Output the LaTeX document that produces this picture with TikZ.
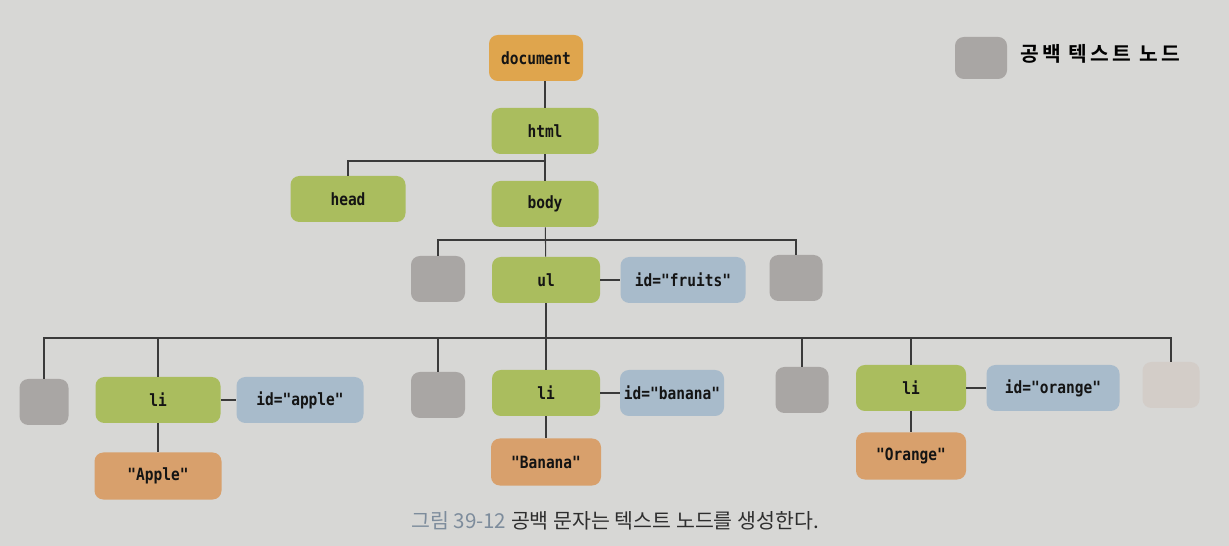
\documentclass[tikz,border=0pt]{standalone}
\usepackage{fontspec}
\setmonofont[FakeStretch=0.86]{DejaVu Sans Mono}
\newfontfamily\kofont{Noto Sans CJK KR}
\newfontfamily\kobold[LetterSpace=16]{Noto Sans CJK KR Bold}
\definecolor{bg}{HTML}{D7D7D5}
\definecolor{docC}{HTML}{DFA54D}
\definecolor{grn}{HTML}{AABD5E}
\definecolor{gry}{HTML}{A9A6A4}
\definecolor{gryL}{HTML}{D3CDC8}
\definecolor{blu}{HTML}{A8BBCB}
\definecolor{txtC}{HTML}{D8A06C}
\definecolor{lineC}{HTML}{3A3A3A}
\definecolor{capC}{HTML}{7D8C9C}
\tikzset{
  nd/.style n args={2}{rounded corners=5pt, minimum width=#1*0.02cm, minimum height=#2*0.02cm,
     inner sep=0pt, font=\ttfamily\bfseries\fontsize{9.6}{11}\selectfont, text=black!92},
  docbox/.style={nd={#1}{46}, fill=docC},
  elbox/.style={nd={#1}{46}, fill=grn},
  atbox/.style={nd={#1}{46}, fill=blu},
  wsbox/.style={nd={#1}{46}, fill=gry},
  txbox/.style={nd={#1}{47}, fill=txtC},
  conn/.style={draw=lineC, line width=0.6pt},
}
\begin{document}
\begin{tikzpicture}[x=0.02cm,y=-0.02cm]
\path[fill=bg] (0,0) rectangle (1229,546);
% nodes
\node[docbox=94] (document) at (536,58) {document};
\node[elbox=107] (html) at (545,131) {html};
\node[elbox=115] (head) at (348,199) {head};
\node[elbox=107] (body) at (545,204) {body};
\node[wsbox=54] (w1) at (438,279) {};
\node[elbox=108] (ul) at (546,280) {ul};
\node[atbox=125] (fruits) at (683,280) {id="fruits"};
\node[wsbox=53] (w2) at (796,278) {};
\node[wsbox=49] (w3) at (44,402) {};
\node[elbox=125] (li1) at (158,400) {li};
\node[atbox=127] (apple) at (300,400) {id="apple"};
\node[wsbox=54] (w4) at (438,395) {};
\node[elbox=108] (li2) at (546,393) {li};
\node[atbox=104] (banana) at (672,393) {id="banana"};
\node[wsbox=53] (w5) at (802,390) {};
\node[elbox=110] (li3) at (911,388) {li};
\node[atbox=133] (orange) at (1053,388) {id="orange"};
\node[wsbox=57, fill=gryL] (w6) at (1171,385) {};
\node[txbox=127] (tApple) at (158,476) {"Apple"};
\node[txbox=110] (tBanana) at (546,462) {"Banana"};
\node[txbox=110] (tOrange) at (911,456) {"Orange"};
% legend
\node[wsbox=52, minimum height=42*0.02cm] (legbox) at (981,58) {};
\node[anchor=west, font=\kobold\fontsize{11.6}{13}\selectfont, text=black] (legtxt) at (1014,54) {공백 텍스트 노드};
% caption
\node[font=\kofont\fontsize{11.7}{13}\selectfont, text=black!82] (caption) at (615,521)
  {\textcolor{capC}{그림 39-12} 공백 문자는 텍스트 노드를 생성한다.};
% connector junctions
\coordinate (j1) at (545,161);
\coordinate (j2) at (545,240);
\coordinate (j3) at (546,338);
% connectors
\draw[conn] (html.north) -- (html.north |- document.south);
\draw[conn] (html) -- (body);
\draw[conn] (head.north) |- (j1);
\draw[conn] (body) -- (ul);
\draw[conn] (w1.north) |- (j2);
\draw[conn] (w2.north) |- (j2);
\draw[conn] (ul) -- (fruits);
\draw[conn] (ul.south) -- (j3);
\draw[conn] (w3.north) |- (j3);
\draw[conn] (li1.north) |- (j3);
\draw[conn] (w4.north) |- (j3);
\draw[conn] (li2.north) -- (j3);
\draw[conn] (w5.north) |- (j3);
\draw[conn] (li3.north) |- (j3);
\draw[conn] (w6.north) |- (j3);
\draw[conn] (li1) -- (apple);
\draw[conn] (li2) -- (banana);
\draw[conn] (li3) -- (orange);
\draw[conn] (li1) -- (tApple);
\draw[conn] (li2) -- (tBanana);
\draw[conn] (li3) -- (tOrange);
\end{tikzpicture}
\end{document}
